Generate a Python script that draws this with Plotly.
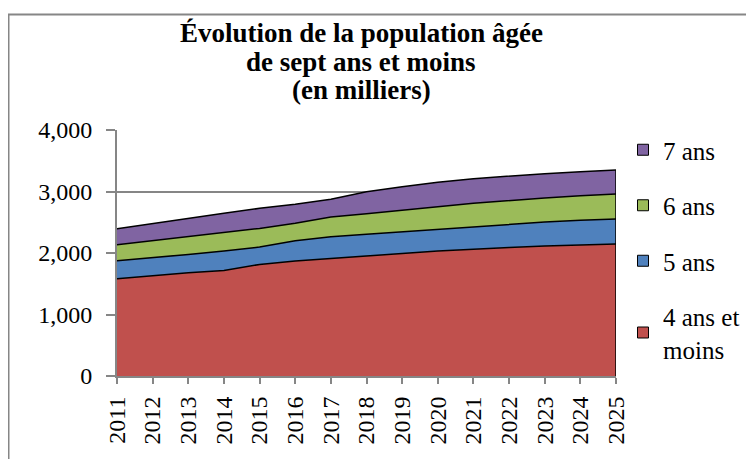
import plotly.graph_objects as go

years = list(range(2011, 2026))
age4 = [1580, 1630, 1678, 1716, 1814, 1868, 1912, 1950, 1993, 2031, 2063, 2091, 2112, 2129, 2145]
age5 = [293, 300, 299, 315, 282, 331, 352, 355, 353, 358, 370, 380, 391, 402, 407]
age6 = [261, 270, 287, 293, 304, 283, 321, 333, 353, 363, 375, 386, 391, 401, 407]
age7 = [260, 280, 304, 321, 326, 309, 288, 359, 379, 398, 400, 395, 396, 390, 391]

names = ["4 ans et<br>moins", "5 ans", "6 ans", "7 ans"]
values = [age4, age5, age6, age7]
colors = ["#C0504D", "#4F81BD", "#9BBB59", "#8064A2"]
title_lines = ["Évolution de la population âgée", "de sept ans et moins", "(en milliers)"]

FONT = "Liberation Serif"
OFF = 8  # page body margin

W, H = 746, 451
PX0, PX1, PY0, PY1 = 117, 616, 130, 376   # plot area in page pixels
L, T = PX0 - OFF, PY0 - OFF
R = OFF + W - PX1
B = OFF + H - PY1


def fx(px):
    return (px - PX0) / (PX1 - PX0)


def fy(py):
    return (PY1 - py) / (PY1 - PY0)


fig = go.Figure()
for i, (name, vals, col) in enumerate(zip(names, values, colors)):
    fig.add_trace(go.Scatter(
        x=years, y=vals, name=name, mode="lines",
        stackgroup="one", fillcolor=col,
        line=dict(color="black", width=1.5),
        legendgroup=f"g{i}", showlegend=False,
    ))
# legend entries with square swatches (7 ans first)
for i, (name, col) in enumerate(zip(names, colors)):
    fig.add_trace(go.Scatter(
        x=[None], y=[None], name=name, mode="markers",
        marker=dict(symbol="square", size=11, color=col, line=dict(color="black", width=1)),
        legendgroup=f"g{i}", legendrank=10 - i, showlegend=True,
    ))

annotations = []
for k, (txt, py) in enumerate(zip(title_lines, [33, 62, 90.5])):
    annotations.append(dict(
        text=f"<b>{txt}</b>", xref="paper", yref="paper",
        x=fx(361), y=fy(py), xanchor="center", yanchor="middle",
        showarrow=False, font=dict(family=FONT, size=27, color="black"),
    ))

total_last = sum(v[-1] for v in values)

fig.update_layout(
    width=W, height=H,
    margin=dict(l=L, r=R, t=T, b=B, autoexpand=False),
    paper_bgcolor="white", plot_bgcolor="white",
    font=dict(family=FONT, size=24, color="black"),
    showlegend=True,
    legend=dict(
        traceorder="grouped",
        xref="container", yref="container",
        x=(623 - OFF) / W, xanchor="left", y=1 - (127 - OFF) / H, yanchor="top",
        font=dict(family=FONT, size=25, color="black"),
        tracegroupgap=20, itemwidth=30, maxheight=400,
        bgcolor="rgba(0,0,0,0)",
    ),
    annotations=annotations,
    xaxis=dict(
        range=[2011, 2025], tickmode="array", tickvals=years,
        ticktext=[str(y) for y in years], tickangle=-90,
        showgrid=False, showline=True, linecolor="#868686", linewidth=2,
        ticks="outside", ticklen=6, tickcolor="#868686", tickwidth=2,
        tickfont=dict(family=FONT, size=24), zeroline=False,
        ticklabelstandoff=3, automargin=False,
    ),
    yaxis=dict(
        range=[0, 4000], tickvals=[0, 1000, 2000, 3000, 4000],
        tickformat=",", showgrid=True, gridcolor="#868686", gridwidth=2,
        showline=True, linecolor="#868686", linewidth=2,
        ticks="outside", ticklen=9, tickcolor="#868686", tickwidth=2,
        tickfont=dict(family=FONT, size=24), zeroline=False,
        ticklabelstandoff=9, automargin=False,
    ),
    shapes=[
        dict(
            type="rect", xref="paper", yref="paper",
            x0=fx(8.5), x1=2.0, y0=-1.0, y1=fy(14.5),
            line=dict(color="#868686", width=2), fillcolor="rgba(0,0,0,0)",
            layer="below",
        ),
        dict(
            type="line", xref="x", yref="y",
            x0=years[-1], x1=years[-1], y0=0, y1=total_last,
            line=dict(color="black", width=1.5),
        ),
    ],
)

fig.write_html("out.html")
